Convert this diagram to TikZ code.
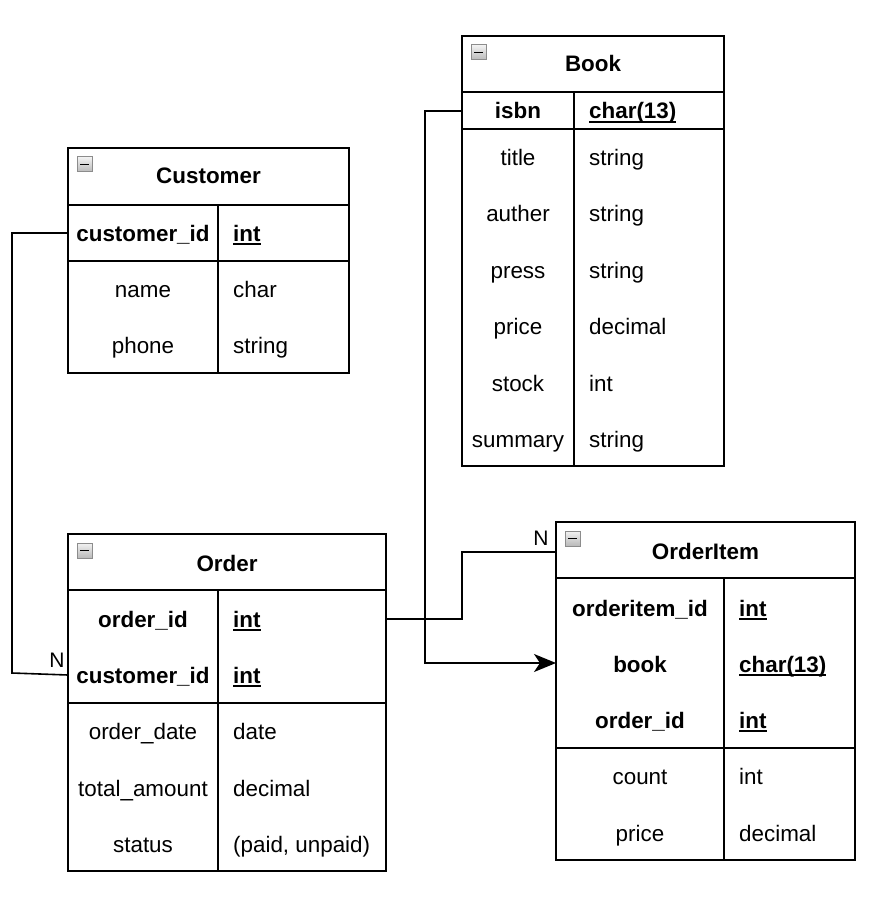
\documentclass[tikz,border=0pt]{standalone}
\usepackage{fontspec}
\setmainfont{Liberation Sans}
\usetikzlibrary{arrows.meta}
\usetikzlibrary{positioning}

\newcommand\ulkey[1]{\setbox0=\hbox{#1}\rlap{\rule[-4pt]{\wd0}{1.6pt}}\box0}

\tikzset{
  tbl/.style={draw, line width=1.7pt, inner sep=0pt, outer sep=0pt},
  fld/.style={font=\fontsize{22.4}{26}\selectfont, inner sep=0pt, text height=16pt, text depth=0pt},
  keyfld/.style={fld, font=\fontsize{22.4}{26}\selectfont\bfseries},
  typ/.style={fld, anchor=west},
  keytyp/.style={keyfld, anchor=west},
  tblhead/.style={keyfld},
  icon/.style={draw=gray!90, line width=1pt, top color=gray!10, bottom color=gray!55},
  link/.style={line width=1.6pt},
  card/.style={fld, font=\fontsize{21}{24}\selectfont},
}

\begin{document}
\begin{tikzpicture}[x=1pt,y=-1pt]
\useasboundingbox (0,0) rectangle (879,917);

% Customer table
\node[tbl, minimum width=281pt, minimum height=225pt] (customer) at (208.5,260.5) {};
\draw[tbl] (68,205) -- (349,205) (68,261) -- (349,261) (218,205) -- (218,373);
\draw[icon] (77,157) rectangle (92,172);
\draw[line width=1.6pt] (80,164.5) -- (89,164.5);
\node[tblhead] (customer_h) at (208.5,176) {Customer};
\node[keyfld] (cust_id) at (143,233) {customer\_id};
\node[keytyp] (cust_id_t) at (233,233) {\ulkey{int}};
\foreach \n/\t/\y [count=\i] in {name/char/289, phone/string/345} {
  \node[fld] (cust_n\i) at (143,\y) {\n};
  \node[typ] (cust_t\i) at (233,\y) {\t};
}

% Book table
\node[tbl, minimum width=262pt, minimum height=430pt] (book) at (593,251) {};
\draw[tbl] (462,92) -- (724,92) (462,129) -- (724,129) (574,92) -- (574,466);
\draw[icon] (471,45) rectangle (486,60);
\draw[line width=1.6pt] (474,52.5) -- (483,52.5);
\node[tblhead] (book_h) at (593,64) {Book};
\node[keyfld] (isbn) at (518,111) {isbn};
\node[keytyp] (isbn_t) at (589,111) {\ulkey{char(13)}};
\foreach \n/\t/\y [count=\i] in {title/string/158, auther/string/214, press/string/270,
    price/decimal/326, stock/int/383, summary/string/439} {
  \node[fld] (book_n\i) at (518,\y) {\n};
  \node[typ] (book_t\i) at (589,\y) {\t};
}

% Order table
\node[tbl, minimum width=318pt, minimum height=337pt] (order) at (227,702.5) {};
\draw[tbl] (68,590) -- (386,590) (68,703) -- (386,703) (218,590) -- (218,871);
\draw[icon] (77,543) rectangle (92,558);
\draw[line width=1.6pt] (80,550.5) -- (89,550.5);
\node[tblhead] (order_h) at (227,563) {Order};
\node[keyfld] (ord_id) at (143,619) {order\_id};
\node[keytyp] (ord_id_t) at (233,619) {\ulkey{int}};
\node[keyfld] (ord_cid) at (143,675) {customer\_id};
\node[keytyp] (ord_cid_t) at (233,675) {\ulkey{int}};
\foreach \n/\t/\y [count=\i] in {order\_date/date/731, total\_amount/decimal/788,
    status/{(paid, unpaid)}/844} {
  \node[fld] (ord_n\i) at (143,\y) {\n};
  \node[typ] (ord_t\i) at (233,\y) {\t};
}

% OrderItem table
\node[tbl, minimum width=299pt, minimum height=338pt] (orderitem) at (705.5,691) {};
\draw[tbl] (556,578) -- (855,578) (556,748) -- (855,748) (724,578) -- (724,860);
\draw[icon] (565,531) rectangle (580,546);
\draw[line width=1.6pt] (568,538.5) -- (577,538.5);
\node[tblhead] (oi_h) at (705.5,551) {OrderItem};
\node[keyfld] (oi_id) at (640,608) {orderitem\_id};
\node[keytyp] (oi_id_t) at (739,608) {\ulkey{int}};
\node[keyfld] (oi_book) at (640,664) {book};
\node[keytyp] (oi_book_t) at (739,664) {\ulkey{char(13)}};
\node[keyfld] (oi_ord) at (640,720) {order\_id};
\node[keytyp] (oi_ord_t) at (739,720) {\ulkey{int}};
\foreach \n/\t/\y [count=\i] in {count/int/776, price/decimal/833} {
  \node[fld] (oi_n\i) at (640,\y) {\n};
  \node[typ] (oi_t\i) at (739,\y) {\t};
}

% links
\coordinate (bendA) at (12,673);
\coordinate (bendB) at (462,552);
\coordinate (bendC) at (425,663);
\draw[link] (cust_id -| customer.west) -- (cust_id -| bendA) -- (bendA) -- (ord_cid -| order.west);
\draw[link] (ord_id -| order.east) -- (ord_id -| bendB) -- (bendB) -- (bendB -| orderitem.west);
\draw[link, -{Stealth[length=22pt,width=18pt,inset=6pt]}] (isbn -| book.west) -- (isbn -| bendC) -- (bendC) -- (bendC -| orderitem.west);
\node[card] (n_cust) at (57,659) {N};
\node[card] (n_item) at (541,537) {N};
\end{tikzpicture}
\end{document}
